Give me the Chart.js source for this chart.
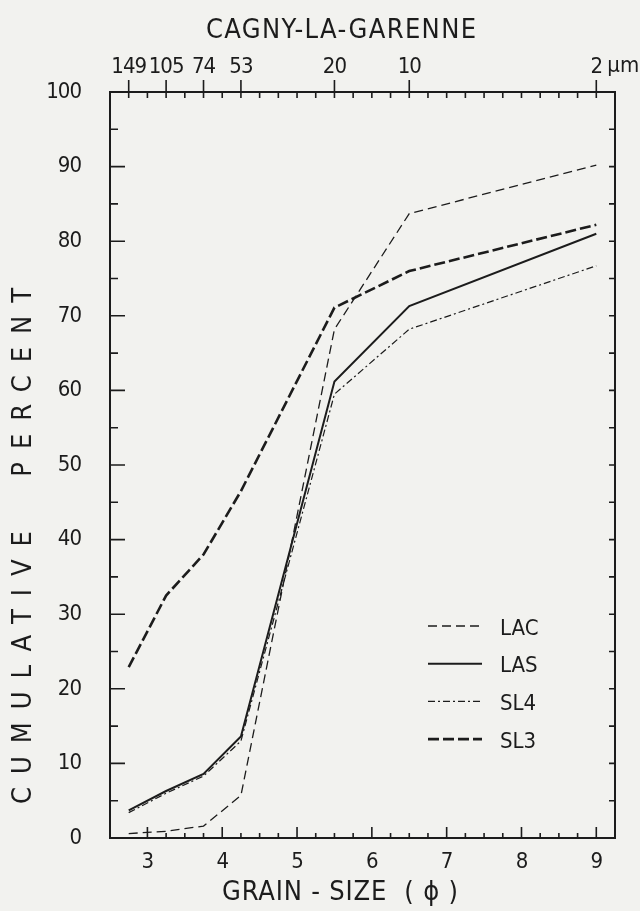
<!DOCTYPE html>
<html>
<head>
<meta charset="utf-8">
<title>Cagny-la-Garenne grain size</title>
<script src="https://cdn.jsdelivr.net/npm/chart.js@4/dist/chart.umd.min.js"></script>
<style>
    html, body { margin: 0; padding: 0; background: #f2f2ef; }
    #wrap { width: 640px; height: 911px; position: relative; }
</style>
</head>
<body>
<div id="wrap"><canvas id="grainChart"></canvas></div>
<script>
// sieve / pipette sizes: phi position and micron label on the top axis
const sizePhi = [2.75, 3.25, 3.75, 4.25, 5.5, 6.5, 9];
const sizeMicron = ['149', '105', '74', '53', '20', '10', '2'];
const phiTicks = [3, 4, 5, 6, 7, 8, 9];
const percentTicks = [0, 10, 20, 30, 40, 50, 60, 70, 80, 90, 100];

// cumulative percent per sample
const lacValues = [0.6, 0.9, 1.6, 5.7, 68.2, 83.7, 90.2];
const lasValues = [3.7, 6.3, 8.6, 13.6, 61.2, 71.3, 81.0];
const sl4Values = [3.4, 6.0, 8.3, 13.0, 59.5, 68.2, 76.7];
const sl3Values = [22.9, 32.5, 38.0, 46.5, 71.1, 76.0, 82.2];

const INK = '#1c1c1c';
const FONT = '"DejaVu Sans Condensed", "DejaVu Sans", sans-serif';

const toPoints = vals => vals.map((v, i) => ({ x: sizePhi[i], y: v }));

function lineSet(label, vals, width, dash) {
    return {
        label: label,
        data: toPoints(vals),
        borderColor: INK,
        borderWidth: width,
        borderDash: dash,
        borderCapStyle: 'butt',
        pointRadius: 0,
        tension: 0,
        fill: false,
        xAxisID: 'x',
        yAxisID: 'y'
    };
}

// text stretched to a given width with letter spacing (as on the drawing)
function spacedText(ctx, text, cx, cy, width, rot) {
    ctx.save();
    ctx.translate(cx, cy);
    ctx.rotate(rot || 0);
    ctx.letterSpacing = '0px';
    const natural = ctx.measureText(text).width;
    ctx.letterSpacing = ((width - natural) / (text.length - 1)) + 'px';
    ctx.textAlign = 'left';
    ctx.textBaseline = 'middle';
    ctx.fillText(text, -width / 2, 0);
    ctx.restore();
}

const paperAxes = {
    id: 'paperAxes',
    beforeDraw(chart) {
        // stencil digits sit tight: pull the tick labels together a little
        chart.ctx.letterSpacing = '-1px';
    },
    afterDraw(chart) {
        const { ctx, chartArea: a, scales } = chart;
        const xs = scales.x, ys = scales.y;
        ctx.save();
        ctx.letterSpacing = '0px';
        ctx.strokeStyle = INK;
        ctx.fillStyle = INK;
        ctx.lineWidth = 1.6;
        ctx.beginPath();

        // bottom: phi quarter ticks, longer at whole phi
        for (let p = 3; p <= 9.001; p += 0.25) {
            const px = xs.getPixelForValue(p);
            const len = Math.abs(p - Math.round(p)) < 0.01 ? 11 : 5;
            ctx.moveTo(px, a.bottom); ctx.lineTo(px, a.bottom - len);
        }
        // top: quarter ticks inward, micron ticks crossing the frame
        for (let p = 2.75; p <= 9.001; p += 0.25) {
            const px = xs.getPixelForValue(p);
            ctx.moveTo(px, a.top); ctx.lineTo(px, a.top + 6);
        }
        scales.x2.ticks.forEach(t => {
            const px = scales.x2.getPixelForValue(t.value);
            ctx.moveTo(px, a.top - 12); ctx.lineTo(px, a.top + 3);
        });
        // left and right: 5 % ticks
        for (let v = 5; v < 100; v += 5) {
            const py = ys.getPixelForValue(v);
            ctx.moveTo(a.left, py); ctx.lineTo(a.left + (v % 10 === 0 ? 15 : 8), py);
            ctx.moveTo(a.right, py); ctx.lineTo(a.right - 6, py);
        }
        ctx.stroke();

        // unit after the 2 micron label
        ctx.font = '22px ' + FONT;
        ctx.textAlign = 'left';
        ctx.textBaseline = 'middle';
        const last = scales.x2.ticks[scales.x2.ticks.length - 1];
        ctx.fillText('µm', scales.x2.getPixelForValue(last.value) + 11, 66);

        // legend
        chart.data.datasets.forEach((ds, i) => {
            const ly = 626 + i * 37.7;
            ctx.save();
            ctx.lineWidth = ds.borderWidth;
            ctx.setLineDash(ds.borderDash);
            ctx.beginPath();
            ctx.moveTo(a.left + 318, ly);
            ctx.lineTo(a.left + 372, ly);
            ctx.stroke();
            ctx.restore();
            ctx.fillText(ds.label, a.left + 390, ly + 3);
        });

        // titles
        ctx.font = '27px ' + FONT;
        spacedText(ctx, 'CAGNY-LA-GARENNE', 341, 31, 270, 0);
        spacedText(ctx, 'CUMULATIVE  PERCENT', 24, 546, 516, -Math.PI / 2);
        spacedText(ctx, 'GRAIN - SIZE  ( ϕ )', 340, 893, 236, 0);
        ctx.restore();
    }
};

const tickFont = { family: FONT, size: 22 };
const noGrid = { display: false, drawTicks: false };

new Chart(document.getElementById('grainChart'), {
    type: 'line',
    data: {
        datasets: [
            lineSet('LAC', lacValues, 1.3, [9, 5]),
            lineSet('LAS', lasValues, 2, []),
            lineSet('SL4', sl4Values, 1.2, [7, 3, 2, 3]),
            lineSet('SL3', sl3Values, 2.6, [11, 4])
        ]
    },
    options: {
        responsive: true,
        maintainAspectRatio: false,
        animation: false,
        layout: { padding: 0 },
        plugins: { legend: { display: false }, tooltip: { enabled: false } },
        scales: {
            x: {
                type: 'linear', position: 'bottom', min: 2.5, max: 9.25,
                grid: noGrid,
                border: { display: true, color: INK, width: 2 },
                afterBuildTicks: s => { s.ticks = phiTicks.map(v => ({ value: v })); },
                afterFit: s => { s.height = 73; },
                ticks: { color: INK, font: tickFont, padding: 11, autoSkip: false, maxRotation: 0, minRotation: 0 }
            },
            x2: {
                type: 'linear', position: 'top', min: 2.5, max: 9.25,
                grid: noGrid,
                border: { display: true, color: INK, width: 2 },
                afterBuildTicks: s => { s.ticks = sizePhi.map(v => ({ value: v })); },
                afterFit: s => { s.height = 92; },
                ticks: {
                    color: INK, font: tickFont, padding: 12, autoSkip: false, maxRotation: 0, minRotation: 0,
                    callback: (v, i) => sizeMicron[i]
                }
            },
            y: {
                type: 'linear', position: 'left', min: 0, max: 100,
                grid: noGrid,
                border: { display: true, color: INK, width: 2 },
                afterBuildTicks: s => { s.ticks = percentTicks.map(v => ({ value: v })); },
                afterFit: s => { s.width = 110; },
                ticks: { color: INK, font: tickFont, padding: 29 }
            },
            y2: {
                type: 'linear', position: 'right', min: 0, max: 100,
                grid: noGrid,
                border: { display: true, color: INK, width: 2 },
                ticks: { display: false },
                afterFit: s => { s.width = 25; }
            }
        }
    },
    plugins: [paperAxes]
});
</script>
</body>
</html>
